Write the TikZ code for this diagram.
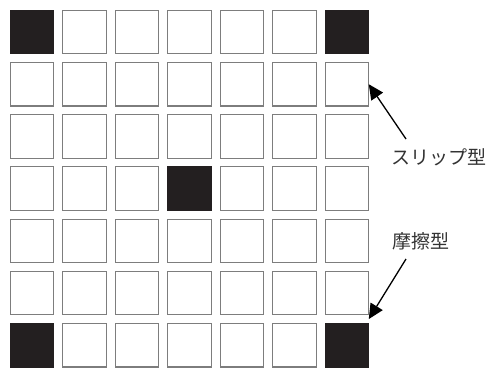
\documentclass[tikz,border=0pt]{standalone}
\usepackage{fontspec}
\newfontfamily\jp{Noto Sans CJK JP}
\usetikzlibrary{arrows.meta,calc}
\definecolor{cellfill}{RGB}{35,31,32}
\definecolor{cellline}{RGB}{125,125,125}
\tikzset{
  cell/.style={draw=cellline, line width=1.1pt, fill=white, minimum size=43.5pt, inner sep=0pt, outer sep=0pt},
  dark/.style={cell, fill=cellfill, draw=cellfill},
  lbl/.style={font=\jp\fontsize{19}{19}\selectfont, text=black!80, inner sep=0pt},
  pointer/.style={line width=1.3pt, -{Triangle[length=15pt,width=14pt]}}
}
\begin{document}
\begin{tikzpicture}[x=1pt,y=-1pt]
\useasboundingbox (0,0) rectangle (492,367);
\begin{scope}
\clip (0,0) rectangle (492,367);
\foreach \r in {0,...,6}{
  \foreach \c in {0,...,6}{
    \node[cell] (s-\r-\c) at ({32+52.5*\c},{32+52.2*\r}) {};
  }
}
\foreach \r/\c in {0/0,0/6,3/3,6/0,6/6}{
  \node[dark] at (s-\r-\c) {};
}
\end{scope}
\node[lbl] (slip) at (439,157) {スリップ型};
\node[lbl] (fric) at (421,241) {摩擦型};
\coordinate (t1) at (406,139);
\coordinate (t2) at (406,259);
\coordinate (gap) at ($(s-5-6.south east)!0.5!(s-6-6.north east)$);
\draw[pointer] (t1) -- (s-1-6.east);
\draw[pointer] (t2) -- (gap);
\end{tikzpicture}
\end{document}
